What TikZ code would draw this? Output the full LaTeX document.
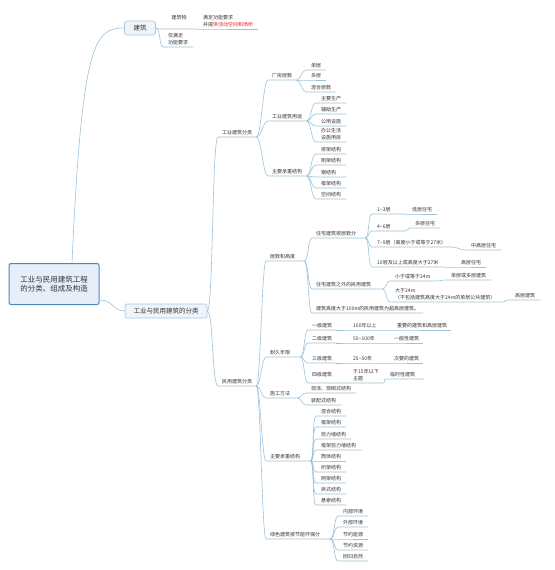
\documentclass[tikz,border=0pt]{standalone}
\usepackage{fontspec}
\newfontfamily\cjk{Noto Sans CJK SC}
\definecolor{linkblue}{HTML}{9CC2D8}
\definecolor{txtgray}{HTML}{333333}
\definecolor{rootline}{HTML}{4E86B8}
\definecolor{rootfill}{HTML}{E6EFF9}
\definecolor{boxline}{HTML}{A9C7DE}
\definecolor{boxfill}{HTML}{EEF4FA}
\definecolor{hired}{HTML}{E02020}
\tikzset{
  link/.style={draw=linkblue, line width=0.6pt},
  topic/.style={anchor=south west, inner xsep=4pt, inner ysep=2pt, align=left,
    text=txtgray, font=\cjk\fontsize{5}{6.5}\selectfont},
  leaf/.style={topic, inner xsep=5pt},
  rootbox/.style={draw=rootline, line width=1pt, fill=rootfill, rounded corners=2pt,
    minimum width=90pt, minimum height=41pt, align=center, text=txtgray,
    font=\cjk\fontsize{7.5}{9.5}\selectfont},
  subbox/.style={draw=boxline, line width=0.6pt, fill=boxfill, rounded corners=2pt,
    minimum height=14pt, inner xsep=4pt, text=txtgray, font=\cjk\fontsize{6.5}{8}\selectfont}
}
\begin{document}
\begin{tikzpicture}[x=1pt,y=-1pt]
\useasboundingbox (0,0) rectangle (554,570);

% main topics
\node[rootbox] (root) at (54,284) {工业与民用建筑工程\\的分类、组成及构造};
\node[subbox, minimum width=31pt] (jz) at (140,28) {建筑};
\node[subbox, minimum width=82pt] (fl) at (166,311) {工业与民用建筑的分类};

\draw[link] ([xshift=18pt]root.north) .. controls (82,40) and (95,28) .. (jz.west);
\draw[link] ([yshift=-16pt]root.east) .. controls +(14,0) and +(-12,0) .. (fl.west);

% 建筑
\node[topic, minimum width=38pt, minimum height=22pt, align=center] (jzw) at (160,29) {建筑物};
\node[leaf] (mz) at (198,29) {满足功能要求\\并提{\color{hired}供活动空间和场所}};
\node[leaf] (jm) at (163,47) {仅满足\\功能要求};
\draw[link] (jz.east) .. controls +(4,0) and +(-4,0) .. (jzw.south west) -- (jzw.south east);
\draw[link] (jzw.south east) -- (mz.south west) -- (mz.south east);
\draw[link] (jz.east) .. controls +(5,0) and +(-4,0) .. (jm.south west) -- (jm.south east);

% 工业与民用建筑的分类
\node[topic] (gy) at (218,137) {工业建筑分类};
\node[topic] (mj) at (218,386) {民用建筑分类};
\draw[link] (fl.east) .. controls +(6,0) and +(-6,0) .. (gy.south west) -- (gy.south east);
\draw[link] (fl.east) .. controls +(6,0) and +(-6,0) .. (mj.south west) -- (mj.south east);

% 工业建筑分类
\node[topic] (cf) at (268,80) {厂房层数};
\node[topic] (yt) at (268,121) {工业建筑用途};
\node[topic] (gcz) at (268,176) {主要承重结构};
\draw[link] (gy.south east) .. controls +(5,0) and +(-5,0) .. (cf.south west) -- (cf.south east);
\draw[link] (gy.south east) .. controls +(5,0) and +(-5,0) .. (yt.south west) -- (yt.south east);
\draw[link] (gy.south east) .. controls +(5,0) and +(-5,0) .. (gcz.south west) -- (gcz.south east);

\node[leaf] (dc) at (306,70) {单层};
\node[leaf] (dc2) at (306,80) {多层};
\node[leaf] (hh) at (306,92) {混合层数};
\draw[link] (cf.south east) .. controls +(4,0) and +(-4,0) .. (dc.south west) -- (dc.south east);
\draw[link] (cf.south east) -- (dc2.south west) -- (dc2.south east);
\draw[link] (cf.south east) .. controls +(4,0) and +(-4,0) .. (hh.south west) -- (hh.south east);

\node[leaf] (zsc) at (316,103) {主要生产};
\node[leaf] (fsc) at (316,114) {辅助生产};
\node[leaf] (gss) at (316,126) {公用设施};
\node[leaf] (bgs) at (316,142) {办公生活\\设施用房};
\draw[link] (yt.south east) .. controls +(5,0) and +(-5,0) .. (zsc.south west) -- (zsc.south east);
\draw[link] (yt.south east) .. controls +(5,0) and +(-5,0) .. (fsc.south west) -- (fsc.south east);
\draw[link] (yt.south east) .. controls +(5,0) and +(-5,0) .. (gss.south west) -- (gss.south east);
\draw[link] (yt.south east) .. controls +(5,0) and +(-5,0) .. (bgs.south west) -- (bgs.south east);

\node[leaf] (pj) at (316,154) {排架结构};
\node[leaf] (gj) at (316,165) {刚架结构};
\node[leaf, text width=20pt] (gjg) at (316,177) {钢结构};
\node[leaf] (kj) at (316,188) {框架结构};
\node[leaf] (kjg) at (316,199) {空间结构};
\draw[link] (gcz.south east) .. controls +(5,0) and +(-5,0) .. (pj.south west) -- (pj.south east);
\draw[link] (gcz.south east) .. controls +(5,0) and +(-5,0) .. (gj.south west) -- (gj.south east);
\draw[link] (gcz.south east) .. controls +(5,0) and +(-5,0) .. (gjg.south west) -- (gjg.south east);
\draw[link] (gcz.south east) .. controls +(5,0) and +(-5,0) .. (kj.south west) -- (kj.south east);
\draw[link] (gcz.south east) .. controls +(5,0) and +(-5,0) .. (kjg.south west) -- (kjg.south east);

% 民用建筑分类
\node[topic, text width=30pt] (cs) at (266,261) {层数和高度};
\node[topic, text width=26pt] (nj) at (266,357) {耐久年限};
\node[topic, text width=23pt] (sg) at (266,398) {施工方法};
\node[topic, text width=36pt] (mcz) at (266,461) {主要承重结构};
\node[topic, text width=56pt] (ls) at (266,539) {绿色建筑按节能环保分};
\draw[link] (mj.south east) .. controls +(4,0) and +(-4,0) .. (cs.south west) -- (cs.south east);
\draw[link] (mj.south east) .. controls +(4,0) and +(-4,0) .. (nj.south west) -- (nj.south east);
\draw[link] (mj.south east) .. controls +(4,0) and +(-4,0) .. (sg.south west) -- (sg.south east);
\draw[link] (mj.south east) .. controls +(4,0) and +(-4,0) .. (mcz.south west) -- (mcz.south east);
\draw[link] (mj.south east) .. controls +(4,0) and +(-4,0) .. (ls.south west) -- (ls.south east);

% 层数和高度
\node[topic, text width=45pt] (zz) at (312,238) {住宅建筑按层数分};
\node[topic, text width=62pt] (zw) at (312,289) {住宅建筑之外的民用建筑};
\node[topic] (cg) at (312,313) {建筑高度大于100m的民用建筑为超高层建筑。};
\draw[link] (cs.south east) .. controls +(4,0) and +(-4,0) .. (zz.south west) -- (zz.south east);
\draw[link] (cs.south east) .. controls +(4,0) and +(-4,0) .. (zw.south west) -- (zw.south east);
\draw[link] (cs.south east) .. controls +(4,0) and +(-4,0) .. (cg.south west) -- (cg.south east);

\node[leaf, text width=23pt] (c13) at (372,214) {1\textasciitilde3层};
\node[leaf] (dzz) at (407,214) {低层住宅};
\node[leaf, text width=23pt] (c46) at (372,231) {4\textasciitilde6层};
\node[leaf] (dcz) at (410,228) {多层住宅};
\node[leaf] (c79) at (372,247) {7\textasciitilde9层（高度小于或等于27米）};
\node[leaf] (zgz) at (466,250) {中高层住宅};
\node[leaf] (c10) at (372,267) {10层及以上或高度大于27米};
\node[leaf] (gzz) at (456,267) {高层住宅};
\draw[link] (zz.south east) .. controls +(4,0) and +(-4,0) .. (c13.south west) -- (c13.south east);
\draw[link] (zz.south east) .. controls +(4,0) and +(-4,0) .. (c46.south west) -- (c46.south east);
\draw[link] (zz.south east) .. controls +(4,0) and +(-4,0) .. (c79.south west) -- (c79.south east);
\draw[link] (zz.south east) .. controls +(4,0) and +(-4,0) .. (c10.south west) -- (c10.south east);
\draw[link] (c13.south east) -- (dzz.south west) -- (dzz.south east);
\draw[link] (c46.south east) .. controls +(3,0) and +(-3,0) .. (dcz.south west) -- (dcz.south east);
\draw[link] (c79.south east) .. controls +(6,0) and +(-6,0) .. (zgz.south west) -- (zgz.south east);
\draw[link] (c10.south east) -- (gzz.south west) -- (gzz.south east);

\node[leaf] (x24) at (390,281) {小于或等于24m};
\node[leaf] (dcj) at (446,280) {单层或多层建筑};
\node[leaf] (d24) at (390,302) {大于24m\\（不包括建筑高度大于24m的单层公共建筑）};
\node[leaf] (gcj) at (510,300) {高层建筑};
\draw[link] (zw.south east) .. controls +(4,0) and +(-4,0) .. (x24.south west) -- (x24.south east);
\draw[link] (zw.south east) .. controls +(4,0) and +(-4,0) .. (d24.south west) -- (d24.south east);
\draw[link] (x24.south east) .. controls +(4,0) and +(-4,0) .. (dcj.south west) -- (dcj.south east);
\draw[link] (d24.south east) .. controls +(8,0) and +(-8,0) .. (gcj.south west) -- (gcj.south east);

% 耐久年限
\node[topic] (yj) at (308,330) {一级建筑};
\node[topic] (n100) at (349,330) {100年以上};
\node[topic] (zyj) at (393,330) {重要的建筑和高层建筑};
\node[topic] (ej) at (308,343) {二级建筑};
\node[topic] (n50) at (349,343) {50\textasciitilde100年};
\node[topic] (ybj) at (390,343) {一般性建筑};
\node[topic] (sj) at (308,363) {三级建筑};
\node[topic] (n25) at (349,363) {25\textasciitilde50年};
\node[topic] (cyj) at (390,363) {次要的建筑};
\node[topic, minimum height=16pt] (sij) at (308,383) {四级建筑};
\node[topic] (n15) at (349,383) {于15年以下\\主题};
\node[topic, text width=30pt] (lsj) at (386,379) {临时性建筑};
\draw[link] (nj.south east) .. controls +(4,0) and +(-4,0) .. (yj.south west) -- (yj.south east);
\draw[link] (nj.south east) .. controls +(4,0) and +(-4,0) .. (ej.south west) -- (ej.south east);
\draw[link] (nj.south east) .. controls +(4,0) and +(-4,0) .. (sj.south west) -- (sj.south east);
\draw[link] (nj.south east) .. controls +(4,0) and +(-4,0) .. (sij.south west) -- (sij.south east);
\draw[link] (yj.south east) -- (n100.south west) -- (n100.south east) -- (zyj.south west) -- (zyj.south east);
\draw[link] (ej.south east) -- (n50.south west) -- (n50.south east) -- (ybj.south west) -- (ybj.south east);
\draw[link] (sj.south east) -- (n25.south west) -- (n25.south east) -- (cyj.south west) -- (cyj.south east);
\draw[link] (sij.south east) -- (n15.south west) -- (n15.south east) .. controls +(3,0) and +(-3,0) .. (lsj.south west) -- (lsj.south east);

% 施工方法
\node[leaf] (xj) at (306,393) {现浇、现砌式结构};
\node[leaf] (zp) at (306,405) {装配式结构};
\draw[link] (sg.south east) .. controls +(4,0) and +(-4,0) .. (xj.south west) -- (xj.south east);
\draw[link] (sg.south east) .. controls +(4,0) and +(-4,0) .. (zp.south west) -- (zp.south east);

% 主要承重结构
\node[leaf] (hhj) at (316,416) {混合结构};
\node[leaf] (kjj) at (316,427) {框架结构};
\node[leaf] (jlq) at (316,439) {剪力墙结构};
\node[leaf] (kjq) at (316,450) {框架剪力墙结构};
\node[leaf] (tt) at (316,461) {筒体结构};
\node[leaf] (hj) at (316,472) {桁架结构};
\node[leaf] (wj) at (316,483) {网架结构};
\node[leaf] (gsj) at (316,494) {拱式结构};
\node[leaf] (xs) at (316,505) {悬索结构};
\draw[link] (mcz.south east) .. controls +(4,0) and +(-4,0) .. (hhj.south west) -- (hhj.south east);
\draw[link] (mcz.south east) .. controls +(4,0) and +(-4,0) .. (kjj.south west) -- (kjj.south east);
\draw[link] (mcz.south east) .. controls +(4,0) and +(-4,0) .. (jlq.south west) -- (jlq.south east);
\draw[link] (mcz.south east) .. controls +(4,0) and +(-4,0) .. (kjq.south west) -- (kjq.south east);
\draw[link] (mcz.south east) -- (tt.south west) -- (tt.south east);
\draw[link] (mcz.south east) .. controls +(4,0) and +(-4,0) .. (hj.south west) -- (hj.south east);
\draw[link] (mcz.south east) .. controls +(4,0) and +(-4,0) .. (wj.south west) -- (wj.south east);
\draw[link] (mcz.south east) .. controls +(4,0) and +(-4,0) .. (gsj.south west) -- (gsj.south east);
\draw[link] (mcz.south east) .. controls +(4,0) and +(-4,0) .. (xs.south west) -- (xs.south east);

% 绿色建筑
\node[leaf] (nb) at (338,516) {内部环境};
\node[leaf] (wb) at (338,527) {外部环境};
\node[leaf] (jn) at (338,539) {节约能源};
\node[leaf] (jzy) at (338,550) {节约资源};
\node[leaf] (hg) at (338,561) {回归自然};
\draw[link] (ls.south east) .. controls +(4,0) and +(-4,0) .. (nb.south west) -- (nb.south east);
\draw[link] (ls.south east) .. controls +(4,0) and +(-4,0) .. (wb.south west) -- (wb.south east);
\draw[link] (ls.south east) -- (jn.south west) -- (jn.south east);
\draw[link] (ls.south east) .. controls +(4,0) and +(-4,0) .. (jzy.south west) -- (jzy.south east);
\draw[link] (ls.south east) .. controls +(4,0) and +(-4,0) .. (hg.south west) -- (hg.south east);

\end{tikzpicture}
\end{document}
